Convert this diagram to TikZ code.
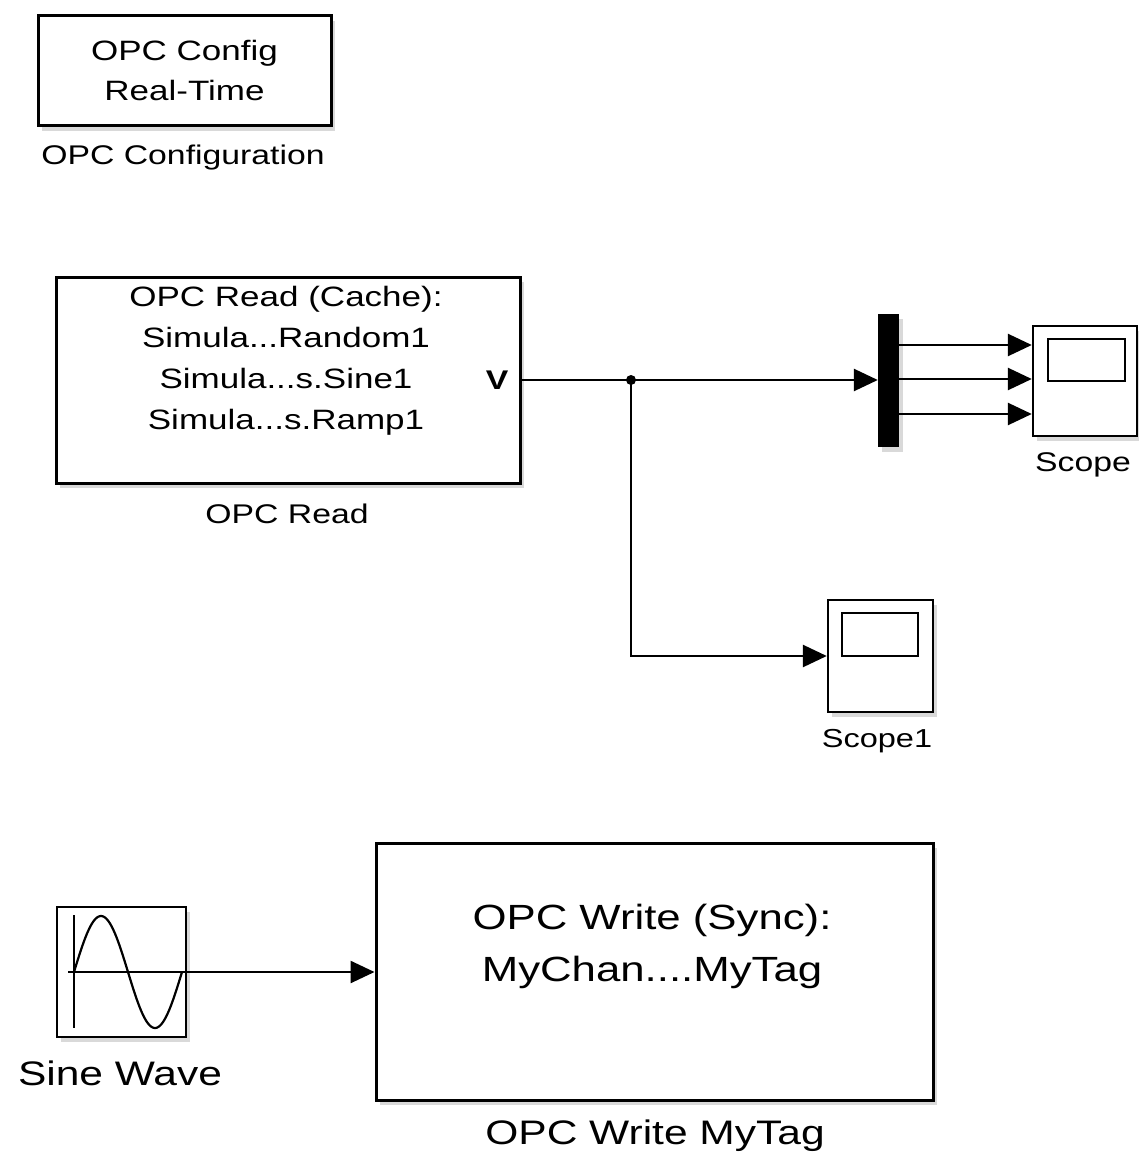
\documentclass[tikz,border=0pt]{standalone}
\usepackage{fontspec}
\setmainfont[FakeStretch=1.25]{Liberation Sans}
\usetikzlibrary{arrows.meta,shadows}
\tikzset{
  blk/.style={draw=black, line width=3pt, fill=white, inner sep=0pt,
    drop shadow={opacity=0.3, shadow xshift=4pt, shadow yshift=-5pt}},
  lbl/.style={inner sep=0pt, font=\fontsize{27}{32}\selectfont},
  btxt/.style={inner sep=0pt, align=center},
  wire/.style={line width=2.6pt, -{Triangle[length=24pt,width=22pt]}},
  plain/.style={line width=2.6pt}
}
\begin{document}
\begin{tikzpicture}[x=1pt,y=-1pt]
\useasboundingbox (0,0) rectangle (1139,1158);
% OPC Configuration
\node[blk, minimum width=293pt, minimum height=110pt] (cfg) at (184.5,71) {};
\node[btxt, font=\fontsize{28}{40}\selectfont] (cfgt) at (184.5,70) {OPC Config\\Real-Time};
\node[lbl] (cfgl) at (183,158) {OPC Configuration};
% OPC Read
\node[blk, minimum width=464pt, minimum height=206pt] (read) at (288,380) {};
\node[btxt, font=\fontsize{28}{41}\selectfont] (readt) at (286,360.5) {OPC Read (Cache):\\Simula...Random1\\Simula...s.Sine1\\Simula...s.Ramp1};
\node[inner sep=0pt, font=\fontsize{27}{32}\selectfont\bfseries] (vport) at (497,380) {V};
\node[lbl] (readl) at (287,514) {OPC Read};
% Mux
\node[fill=black, minimum width=21pt, minimum height=133pt, inner sep=0pt,
  drop shadow={opacity=0.3, shadow xshift=4pt, shadow yshift=-5pt}] (mux) at (888.5,380.5) {};
% Scope
\node[blk, line width=2.4pt, minimum width=104pt, minimum height=110pt] (scope) at (1085,381) {};
\draw[line width=2.4pt] (1048,339) rectangle (1125,381);
\node[lbl] (scopel) at (1083,465) {Scope};
% Scope1
\node[blk, line width=2.4pt, minimum width=105pt, minimum height=112pt] (scope1) at (880.5,656) {};
\draw[line width=2.4pt] (842,613) rectangle (918,656);
\node[lbl, font=\fontsize{26}{32}\selectfont] (scope1l) at (877,741) {Scope1};
% Sine wave
\node[blk, line width=2.8pt, minimum width=129pt, minimum height=130pt] (sine) at (121.5,972) {};
\draw[line width=2.2pt] (74,915) -- (74,1028);
\draw[line width=2.2pt] (68,972) -- (sine.east);
\draw[line width=2.2pt, domain=0:108, samples=80, smooth] plot ({74+\x},{972-56*sin(\x*3.33333)});
\node[lbl, font=\fontsize{34}{40}\selectfont] (sinel) at (120,1073) {Sine Wave};
% OPC Write
\node[blk, minimum width=557pt, minimum height=257pt] (write) at (654.5,971.5) {};
\node[btxt, font=\fontsize{35}{52}\selectfont] (writet) at (652,946) {OPC Write (Sync):\\MyChan....MyTag};
\node[lbl, font=\fontsize{34}{40}\selectfont] (writel) at (655,1136) {OPC Write MyTag};
% connectors
\coordinate (j) at (631,380);
\draw[wire] (read.east) -- (mux.west |- read.east);
\draw[wire] (j) |- (scope1.west);
\fill (j) circle (5pt);
\draw[wire] (mux.east |- 0,345) -- (scope.west |- 0,345);
\draw[wire] (mux.east |- 0,379) -- (scope.west |- 0,379);
\draw[wire] (mux.east |- 0,414) -- (scope.west |- 0,414);
\draw[wire] (sine.east) -- (write.west |- sine.east);
\end{tikzpicture}
\end{document}
